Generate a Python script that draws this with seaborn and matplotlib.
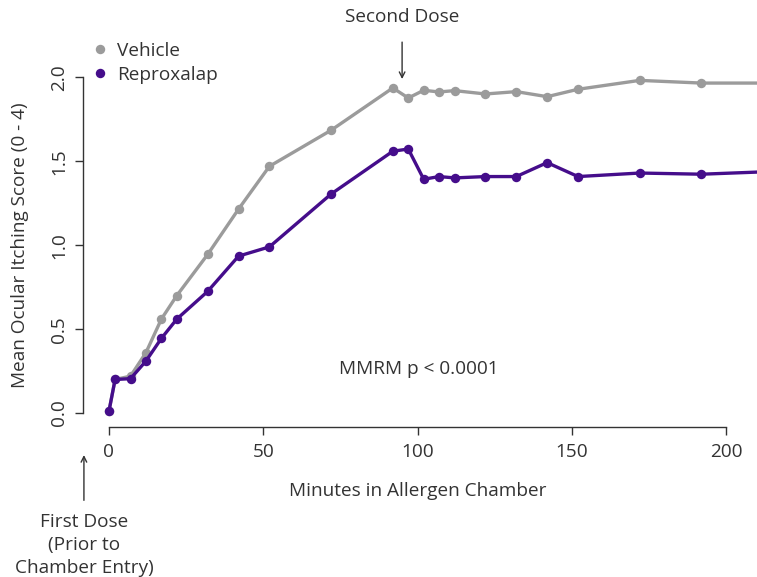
import numpy as np
import pandas as pd
import seaborn as sns
import matplotlib
matplotlib.use("Agg")
import matplotlib.pyplot as plt
from matplotlib.lines import Line2D

# ---- data ----
minutes = [0, 2, 7, 12, 17, 22, 32, 42, 52, 72, 92, 97, 102, 107, 112, 122, 132, 142, 152, 172, 192, 212]
vehicle = [0.01, 0.20, 0.22, 0.36, 0.56, 0.70, 0.945, 1.215, 1.47, 1.685, 1.937, 1.877, 1.923, 1.913, 1.921,
           1.901, 1.915, 1.885, 1.929, 1.982, 1.966, 1.966]
reproxalap = [0.01, 0.20, 0.205, 0.31, 0.445, 0.56, 0.725, 0.935, 0.99, 1.305, 1.56, 1.573, 1.393, 1.409, 1.401,
              1.409, 1.409, 1.492, 1.409, 1.430, 1.423, 1.437]
series_names = ["Vehicle", "Reproxalap"]
colors = {"Vehicle": "#9b9b9b", "Reproxalap": "#450d8b"}
x_ticks = [0, 50, 100, 150, 200]
y_ticks = [0.0, 0.5, 1.0, 1.5, 2.0]
y_ticklabels = ["0.0", "0.5", "1.0", "1.5", "2.0"]

df = pd.DataFrame({
    "Minutes": minutes * 2,
    "Score": vehicle + reproxalap,
    "Group": ["Vehicle"] * len(minutes) + ["Reproxalap"] * len(minutes),
})

sns.set_style("white")
plt.rcParams["font.family"] = ["Open Sans", "DejaVu Sans"]
TXT = "#333333"
FS = 13.7

fig = plt.figure(figsize=(7.57, 5.77), dpi=100)
ax = fig.add_axes([83 / 757, 1 - 427 / 577, 1 - 83 / 757, (427 - 50) / 577])

sns.lineplot(data=df, x="Minutes", y="Score", hue="Group", hue_order=series_names,
             palette=colors, marker="o", markersize=6.8, markeredgewidth=0,
             linewidth=2.4, ax=ax, legend=False, estimator=None, sort=False)

ax.set_xlim(-8.4, 210)
ax.set_ylim(-0.083, 2.163)

for s in ["top", "right"]:
    ax.spines[s].set_visible(False)
ax.spines["left"].set_bounds(0, 2)
ax.spines["bottom"].set_bounds(0, 200)
for s in ["left", "bottom"]:
    ax.spines[s].set_color(TXT)
    ax.spines[s].set_linewidth(1.0)

ax.set_xticks(x_ticks)
ax.set_xticklabels([str(v) for v in x_ticks])
ax.set_yticks(y_ticks)
ax.set_yticklabels(y_ticklabels, rotation=90, va="center")
ax.tick_params(axis="both", direction="out", length=5.8, width=1.0, color=TXT,
               labelsize=FS, labelcolor=TXT)
ax.tick_params(axis="x", pad=6)
ax.tick_params(axis="y", pad=5)
ax.tick_params(left=True, bottom=True)

ax.set_xlabel("Minutes in Allergen Chamber", fontsize=FS, color=TXT)
ax.set_ylabel("Mean Ocular Itching Score (0 - 4)", fontsize=FS, color=TXT)
ax.xaxis.set_label_coords((418 - 83) / (757 - 83), -(482 - 427) / 377)
ax.yaxis.set_label_coords(-(83 - 29) / (757 - 83), (427 - 245) / 377)

# legend
handles = [Line2D([], [], linestyle="none", marker="o", markersize=6.8, markeredgewidth=0,
                  color=colors[n]) for n in series_names]
leg = ax.legend(handles, series_names, loc="upper left", frameon=False, fontsize=FS,
                bbox_to_anchor=(94 / 757, 1 - 42 / 577), bbox_transform=fig.transFigure,
                handlelength=0.6, handletextpad=0.6, labelspacing=0.3, borderaxespad=0,
                borderpad=0)
for t in leg.get_texts():
    t.set_color(TXT)

# annotations
ax.annotate("", xy=(95, 1.99), xytext=(95, 2.21), annotation_clip=False,
            arrowprops=dict(arrowstyle="->", color=TXT, lw=1.0, shrinkA=0, shrinkB=0))
ax.text(95, 2.36, "Second Dose", ha="center", va="center", fontsize=FS, color=TXT, clip_on=False)

ax.annotate("", xy=(-8.1, -0.25), xytext=(-8.1, -0.52), annotation_clip=False,
            arrowprops=dict(arrowstyle="->", color=TXT, lw=1.0, shrinkA=0, shrinkB=0))
fig.text(84 / 757, 1 - 545 / 577, "First Dose\n(Prior to\nChamber Entry)", ha="center", va="center",
         fontsize=FS, color=TXT, linespacing=1.33)

ax.text(100.5, 0.26, "MMRM p < 0.0001", ha="center", va="center", fontsize=FS, color=TXT)

fig.savefig("out.png", dpi=100)
